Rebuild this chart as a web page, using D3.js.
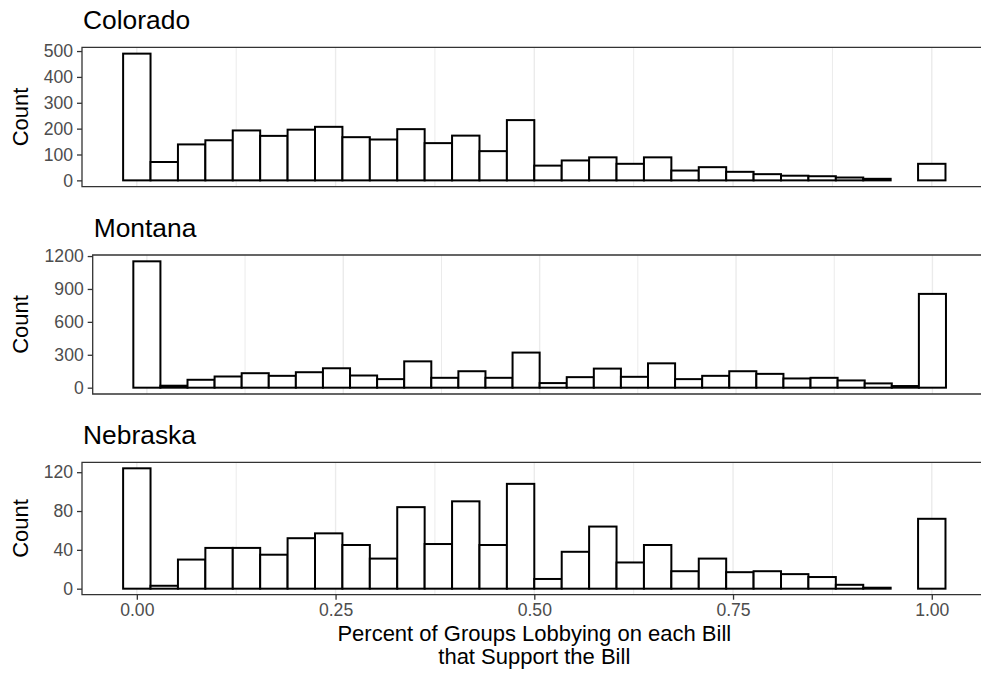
<!DOCTYPE html>
<html>
<head>
<meta charset="utf-8">
<script src="https://cdn.jsdelivr.net/npm/d3@7"></script>
<style>
  html, body { margin: 0; padding: 0; background: #ffffff; overflow: hidden; }
  svg { display: block; font-family: "Liberation Sans", Arial, Helvetica, sans-serif; }
</style>
</head>
<body>
<svg id="chart" width="981" height="679"></svg>
<script>
// Histogram counts per state, 30 bins of width 1/29 centred on 0, 1/29, ..., 1
const states = ["Colorado", "Montana", "Nebraska"];
const coloradoCounts = [490, 71, 139, 155, 193, 172, 196, 207, 167, 158, 198, 144, 173, 113, 233,
                        57, 77, 89, 64, 89, 38, 51, 33, 24, 18, 16, 11, 6, 0, 64];
const montanaCounts  = [1152, 18, 72, 102, 132, 108, 141, 177, 111, 78, 240, 90, 150, 90, 320,
                        42, 96, 174, 99, 222, 78, 108, 150, 126, 84, 90, 66, 39, 15, 855];
const nebraskaCounts = [124, 3, 30, 42, 42, 35, 52, 57, 45, 31, 84, 46, 90, 45, 108,
                        10, 38, 64, 27, 45, 18, 31, 17, 18, 15, 12, 4, 1, 0, 72];
const yTicksColorado = [0, 100, 200, 300, 400, 500];
const yTicksMontana  = [0, 300, 600, 900, 1200];
const yTicksNebraska = [0, 40, 80, 120];
const xTicks = [0, 0.25, 0.5, 0.75, 1];
const xTickLabels = ["0.00", "0.25", "0.50", "0.75", "1.00"];
const xMinorGrid = [0.125, 0.375, 0.625, 0.875];
const yTitle = "Count";
const xTitleLines = ["Percent of Groups Lobbying on each Bill", "that Support the Bill"];

const binWidth = 1 / 29;
const binCenters = d3.range(30).map(i => i * binWidth);

const panels = [
  { name: states[0], counts: coloradoCounts, ticks: yTicksColorado, left: 82,   top: 47.3,  bottom: 186.7, xAxis: false },
  { name: states[1], counts: montanaCounts,  ticks: yTicksMontana,  left: 92.7, top: 255,   bottom: 394,   xAxis: false },
  { name: states[2], counts: nebraskaCounts, ticks: yTicksNebraska, left: 82,   top: 462.3, bottom: 594.7, xAxis: true }
];
const right = 986.6;

const svg = d3.select("#chart");
const dataMin = -binWidth / 2, dataMax = 1 + binWidth / 2;
const pad = 0.05 * (dataMax - dataMin);

panels.forEach(p => {
  const x = d3.scaleLinear().domain([dataMin - pad, dataMax + pad]).range([p.left, right]);
  const maxC = d3.max(p.counts);
  const y = d3.scaleLinear().domain([-0.05 * maxC, 1.05 * maxC]).range([p.bottom, p.top]);
  const g = svg.append("g");

  // vertical grid lines
  g.selectAll("line.minor").data(xMinorGrid).join("line")
    .attr("x1", d => x(d)).attr("x2", d => x(d))
    .attr("y1", p.top).attr("y2", p.bottom)
    .attr("stroke", "#ebebeb").attr("stroke-width", 1);
  g.selectAll("line.major").data(xTicks).join("line")
    .attr("x1", d => x(d)).attr("x2", d => x(d))
    .attr("y1", p.top).attr("y2", p.bottom)
    .attr("stroke", "#ebebeb").attr("stroke-width", 1.4);

  // bars
  g.selectAll("rect.bar").data(p.counts).join("rect")
    .attr("x", (d, i) => x(binCenters[i] - binWidth / 2))
    .attr("width", x(binWidth) - x(0))
    .attr("y", d => y(d))
    .attr("height", d => y(0) - y(d))
    .attr("fill", "#ffffff").attr("stroke", "#000000").attr("stroke-width", 2);

  // panel border (right side runs off the canvas)
  g.append("path")
    .attr("d", `M${right},${p.top}H${p.left}V${p.bottom}H${right}`)
    .attr("fill", "none").attr("stroke", "#333333").attr("stroke-width", 1.3);

  // y axis
  const yAxis = d3.axisLeft(y).tickValues(p.ticks).tickFormat(d3.format("d")).tickSize(5).tickPadding(4);
  const ya = g.append("g").attr("transform", `translate(${p.left},0)`).call(yAxis);
  ya.select(".domain").remove();
  ya.selectAll(".tick line").attr("stroke", "#333333").attr("stroke-width", 1.3);
  ya.selectAll(".tick text").attr("fill", "#4d4d4d")
    .style("font-size", "17.6px").style("font-family", "Liberation Sans, Arial, sans-serif");

  // x axis (bottom panel only)
  if (p.xAxis) {
    const xAxis = d3.axisBottom(x).tickValues(xTicks).tickFormat((d, i) => xTickLabels[i])
      .tickSize(5).tickPadding(4);
    const xa = g.append("g").attr("transform", `translate(0,${p.bottom})`).call(xAxis);
    xa.select(".domain").remove();
    xa.selectAll(".tick line").attr("stroke", "#333333").attr("stroke-width", 1.3);
    xa.selectAll(".tick text").attr("fill", "#4d4d4d")
      .style("font-size", "17.6px").style("font-family", "Liberation Sans, Arial, sans-serif");

    const cx = (p.left + right) / 2;
    svg.append("text").attr("x", cx).attr("y", 641).attr("text-anchor", "middle")
      .style("font-size", "22px").attr("fill", "#000").text(xTitleLines[0]);
    svg.append("text").attr("x", cx).attr("y", 664).attr("text-anchor", "middle")
      .style("font-size", "22px").attr("fill", "#000").text(xTitleLines[1]);
  }

  // y title
  svg.append("text")
    .attr("transform", `translate(28,${(p.top + p.bottom) / 2}) rotate(-90)`)
    .attr("text-anchor", "middle")
    .style("font-size", "22px").attr("fill", "#000").text(yTitle);

  // panel title
  svg.append("text").attr("x", p.left + 1).attr("y", p.top - 18)
    .style("font-size", "26.4px").attr("fill", "#000").text(p.name);
});
</script>
</body>
</html>
